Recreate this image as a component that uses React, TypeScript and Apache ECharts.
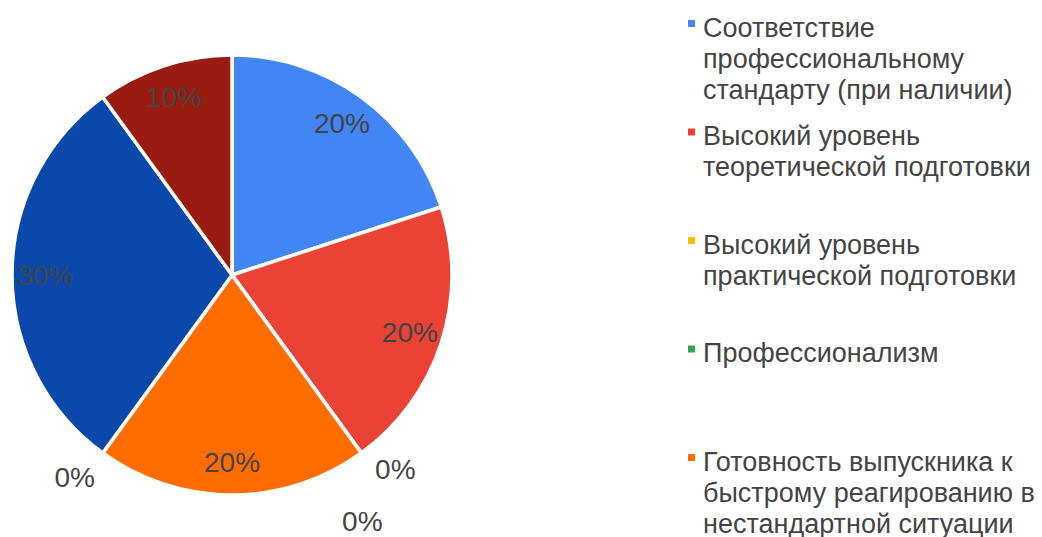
import React, { useEffect, useRef } from "react";
import * as echarts from "echarts";

const categories = [
  "Соответствие профессиональному стандарту (при наличии)",
  "Высокий уровень теоретической подготовки",
  "Высокий уровень практической подготовки",
  "Профессионализм",
  "Готовность выпускника к быстрому реагированию в нестандартной ситуации",
  "Прочее 1",
  "Прочее 2",
  "Прочее 3",
];
const values = [20, 20, 0, 0, 20, 0, 30, 10];
const colors = ["#4285F4", "#EA4335", "#FBBC04", "#34A853", "#FF6D01", "#46BDC6", "#0B48AB", "#9A1B10"];
const legendLines = [
  ["Соответствие", "профессиональному", "стандарту (при наличии)"],
  ["Высокий уровень", "теоретической подготовки"],
  ["Высокий уровень", "практической подготовки"],
  ["Профессионализм"],
  ["Готовность выпускника к", "быстрому реагированию в", "нестандартной ситуации"],
];

const FONT = "'Liberation Sans', Arial, sans-serif";
const TEXT = "#444444";
// small nudges for the stacked 0% labels (Google-style placement)
const zeroLabelNudge: Record<number, [number, number]> = {
  2: [-3, 0],
  3: [-36, 52],
  5: [9, 8],
};

export default function App() {
  const ref = useRef<HTMLDivElement>(null);
  useEffect(() => {
    if (!ref.current) return;
    const chart = echarts.init(ref.current, null, { renderer: "svg" });
    const center = [232, 275];
    const R = 220;
    const data = categories.map((name, i) => ({
      name,
      value: values[i],
      itemStyle: { color: colors[i] },
    }));
    const labelData = categories.map((name, i) => ({
      name,
      value: values[i],
      label: values[i] === 0 ? { position: "outside" } : { position: "inside" },
    }));
    const lineStyles = ["t1", "t2", "t3"];
    const legends = legendLines.map((lines, i) => ({
      data: [categories[i]],
      left: 682,
      top: 14 + i * 108.5,
      padding: 0,
      itemWidth: 0,
      itemHeight: 0,
      itemGap: 0,
      icon: "rect",
      selectedMode: false,
      formatter: () =>
        lines
          .map((l, j) => (j === 0 ? "{m|}{g|}" : "{s|}") + "{" + lineStyles[j] + "|" + l + "}")
          .join("\n"),
      textStyle: {
        rich: {
          m: { width: 7, height: 7, lineHeight: 1, verticalAlign: "top", backgroundColor: colors[i] },
          g: { width: 8, height: 1, lineHeight: 1 },
          s: { width: 15, height: 1, lineHeight: 1 },
          t1: { fontSize: 27, lineHeight: 15, color: TEXT, fontFamily: FONT },
          t2: { fontSize: 27, lineHeight: 47, color: TEXT, fontFamily: FONT },
          t3: { fontSize: 27, lineHeight: 15, color: TEXT, fontFamily: FONT },
        },
      },
    }));
    chart.setOption({
      animation: false,
      backgroundColor: "#ffffff",
      legend: legends,
      series: [
        {
          type: "pie",
          center,
          radius: [0, R],
          startAngle: 90,
          clockwise: true,
          avoidLabelOverlap: false,
          label: { show: false },
          labelLine: { show: false },
          itemStyle: { borderColor: "#ffffff", borderWidth: 3.5 },
          emphasis: { disabled: true },
          data,
        },
        {
          type: "pie",
          center,
          radius: [148, R],
          startAngle: 90,
          clockwise: true,
          silent: true,
          avoidLabelOverlap: false,
          itemStyle: { color: "rgba(0,0,0,0)" },
          label: {
            show: true,
            fontSize: 28,
            color: TEXT,
            fontFamily: FONT,
            formatter: (p: any) => Math.round(p.percent) + "%",
          },
          labelLine: { show: false, length: 20, length2: 0 },
          labelLayout: (p: any) => {
            const n = zeroLabelNudge[p.dataIndex];
            return n ? { dx: n[0], dy: n[1] } : {};
          },
          emphasis: { disabled: true },
          data: labelData,
        },
      ],
    });
    return () => chart.dispose();
  }, []);
  return (
    <div
      ref={ref}
      style={{ position: "absolute", left: 0, top: 0, width: 1042, height: 537 }}
    />
  );
}
